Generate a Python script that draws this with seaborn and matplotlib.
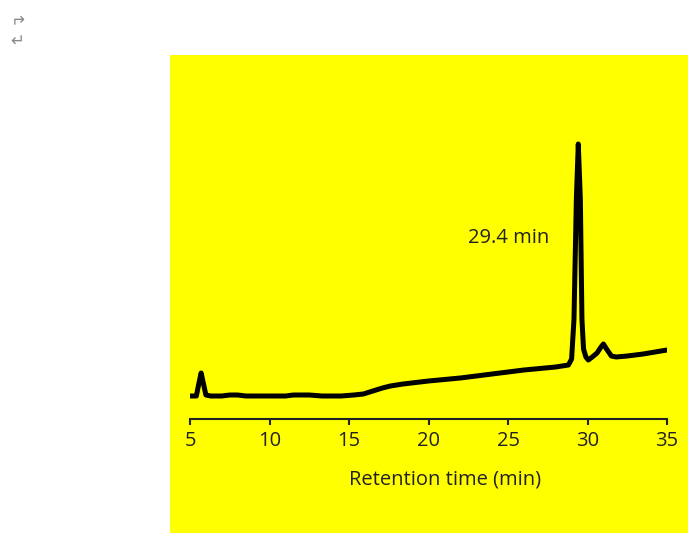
import matplotlib
matplotlib.use("Agg")
import matplotlib.pyplot as plt
import seaborn as sns
import pandas as pd
from matplotlib.patches import Rectangle

# Data
time_min = [5.0, 5.4, 5.55, 5.7, 5.85, 6.0, 6.3, 7.0, 7.5, 8.0, 8.5, 10.0, 11.0, 11.5,
            12.5, 13.3, 14.5, 15.3, 15.9, 16.5, 17.1, 17.6, 18.4, 20.0, 22.0, 24.0, 26.0,
            28.0, 28.8, 29.0, 29.15, 29.3, 29.42, 29.55, 29.65, 29.75, 29.9, 30.05,
            30.3, 30.6, 30.85, 31.0, 31.2, 31.5, 31.8, 32.5, 33.5, 35.0]
signal = [23, 23, 35, 46, 35, 24, 23, 23, 24, 24, 23, 23, 23, 24,
          24, 23, 23, 24, 25, 28, 31, 33, 35, 38, 41, 45, 49,
          52, 54, 60, 100, 220, 275, 220, 100, 70, 62, 59,
          62, 66, 72, 75, 70, 63, 62, 63, 65, 69]
x_ticks = [5, 10, 15, 20, 25, 30, 35]
peak_label = "29.4 min"
x_label = "Retention time (min)"

df = pd.DataFrame({"t": time_min, "s": signal})

sns.set_style("white")
plt.rcParams['font.family'] = ['Open Sans', 'DejaVu Sans']

fig = plt.figure(figsize=(6.88, 5.33), dpi=100)
fig.patches.append(Rectangle((170/688, 0), 1 - 170/688, (533-55)/533,
                             transform=fig.transFigure, facecolor="#ffff00",
                             edgecolor="none", zorder=-10))

ax = fig.add_axes([190/688, 1 - 419/533, 477/688, (419-60)/533])
ax.patch.set_alpha(0)

sns.lineplot(data=df, x="t", y="s", ax=ax, color="black", linewidth=3.6,
             solid_joinstyle="round", solid_capstyle="round")

ax.set_xlim(5, 35)
ax.set_ylim(0, 359)
ax.set_xticks(x_ticks)
ax.set_yticks([])
for s in ["top", "right", "left"]:
    ax.spines[s].set_visible(False)
ax.spines["bottom"].set_color("#222222")
ax.spines["bottom"].set_linewidth(1.5)
ax.tick_params(axis="x", direction="out", length=4, width=1.5, color="#222222",
               labelsize=14.5, labelcolor="#222222", pad=5, bottom=True)
ax.set_xlabel(x_label, fontsize=14.5, color="#222222", va="center")
ax.xaxis.set_label_coords((445.5 - 190) / 477, (419 - 480) / 359)
ax.set_ylabel("")

ax.text(22.5, 181, peak_label, ha="left", va="center", fontsize=14.5, color="#222222")

fig.text(17/688, 1 - 17/533, "↵", fontsize=12, color="#8a8a8a", ha="center", va="center",
         family=['DejaVu Sans'], rotation=180)
fig.text(17/688, 1 - 41/533, "↵", fontsize=12, color="#8a8a8a", ha="center", va="center",
         family=['DejaVu Sans'])

fig.savefig("out.png", dpi=100)
